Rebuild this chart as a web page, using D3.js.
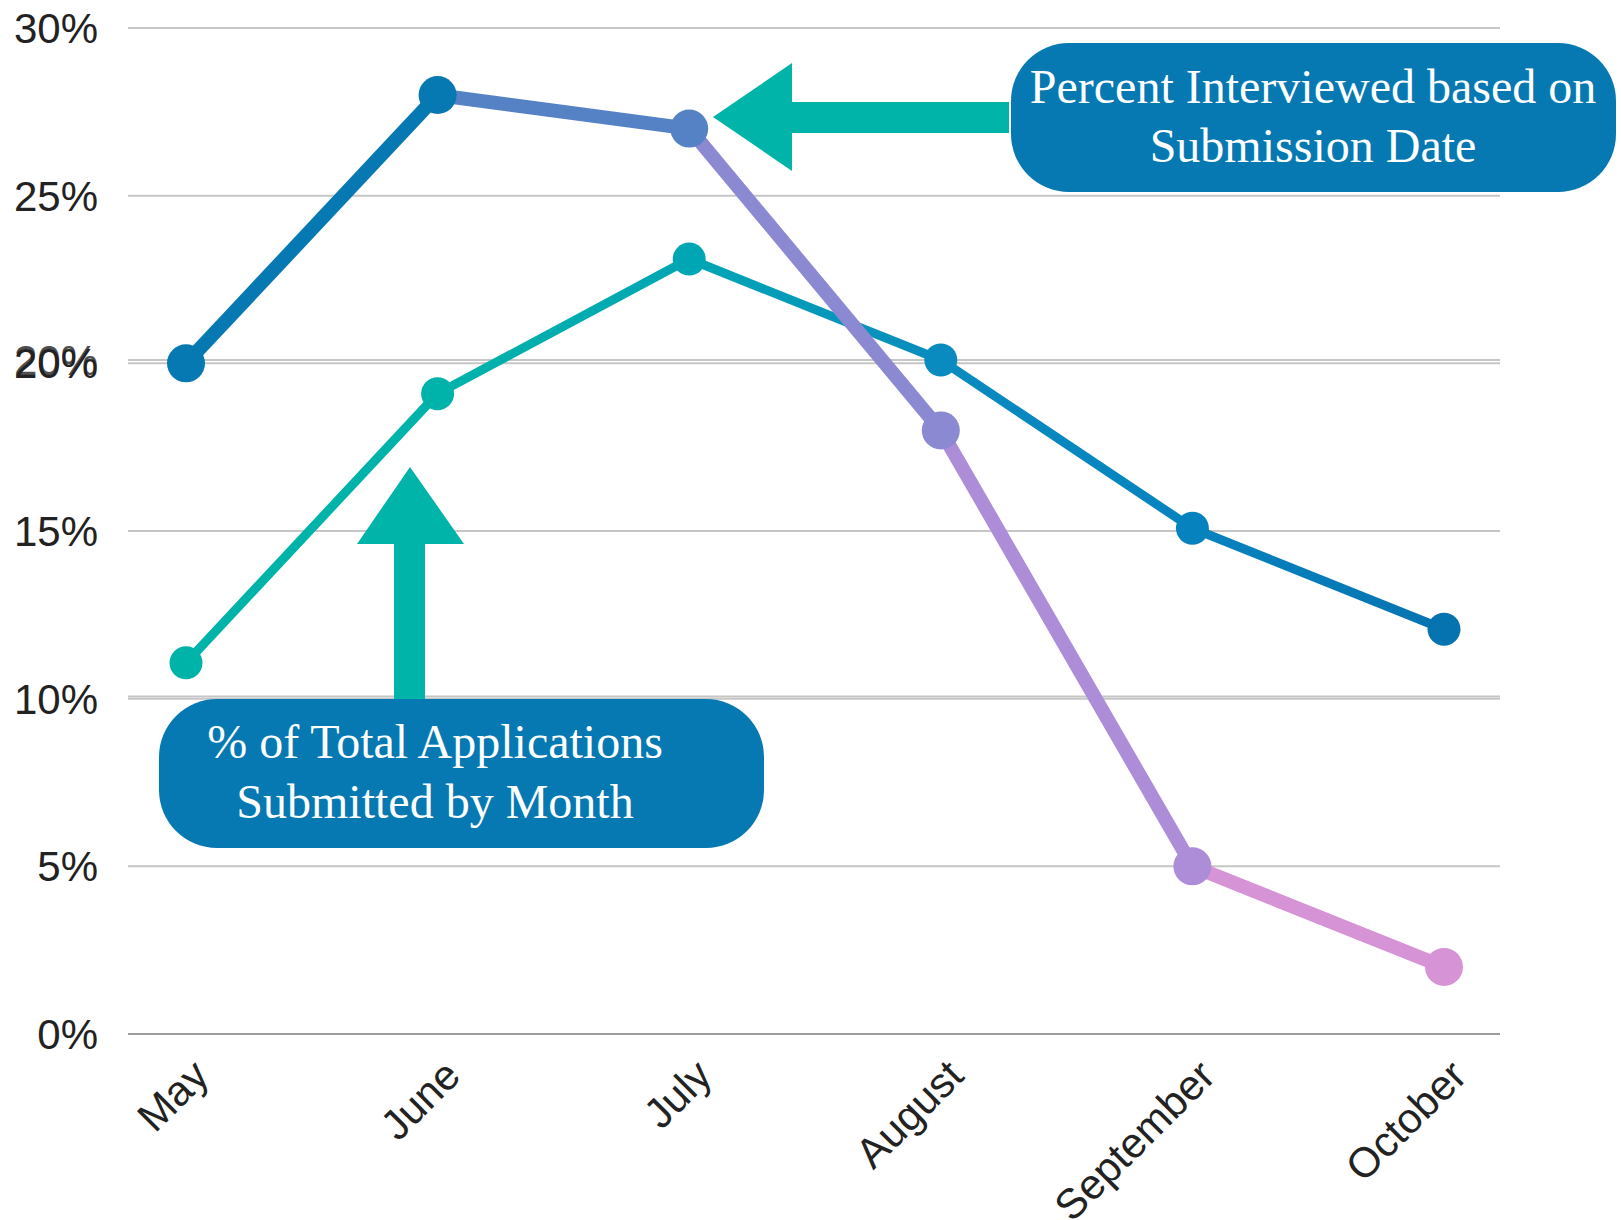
<!DOCTYPE html>
<meta charset="utf-8">
<style>
body { margin: 0; background: #fff; }
.grid line { stroke: #c6c6c6; stroke-width: 2px; }
.tick-label { font-family: "Liberation Sans", Arial, sans-serif; font-size: 42px; fill: #222; }
.note { font-family: "Liberation Serif", serif; font-size: 48px; fill: #fff; }
</style>
<body>
<div id="chart"></div>
<script src="https://d3js.org/d3.v7.min.js"></script>
<script>

// data
var months = ["May", "June", "July", "August", "September", "October"];
var interviewed = [20, 28, 27, 18, 5, 2];      // percent interviewed by submission month
var applications = [11, 19, 23, 20, 15, 12];   // % of total applications submitted
var yTicks = [0, 5, 10, 15, 20, 25, 30];
var yTicksB = [10, 20];
var yLabelsB = [20];

// colours per point / segment
var interviewColors = ["#0679b3", "#0679b3", "#5581c5", "#8a89d1", "#ad8dd8", "#d693d6"];
var appColors = ["#00b3a9", "#00b3aa", "#00a6b4", "#0a8bbf", "#0683bf", "#0673b1"];

var width = 1621, height = 1220;

var svg = d3.select("#chart").append("svg")
    .attr("width", width)
    .attr("height", height);

var x = d3.scalePoint().domain(months).range([186, 1444]);
var y = d3.scaleLinear().domain([0, 30]).range([1034, 28]);
// the second chart sits on a slightly different scale
var yB = d3.scaleLinear().domain([0, 20]).range([1033, 360]);

var gridLeft = 128, gridRight = 1500;

// grid lines
var grid = svg.append("g").attr("class", "grid");
grid.selectAll("line.a")
  .data(yTicks)
  .enter().append("line")
    .attr("class", "a")
    .attr("x1", gridLeft).attr("x2", gridRight)
    .attr("y1", function(d) { return y(d); })
    .attr("y2", function(d) { return y(d); })
    .style("stroke", function(d) { return d === 0 ? "#9c9c9c" : null; });
grid.selectAll("line.b")
  .data(yTicksB)
  .enter().append("line")
    .attr("class", "b")
    .attr("x1", gridLeft).attr("x2", gridRight)
    .attr("y1", function(d) { return yB(d); })
    .attr("y2", function(d) { return yB(d); });

// y labels
svg.append("g").selectAll("text")
  .data(yTicks)
  .enter().append("text")
    .attr("class", "tick-label")
    .attr("x", 98)
    .attr("y", function(d) { return y(d); })
    .attr("dy", "0.36em")
    .attr("text-anchor", "end")
    .text(function(d) { return d + "%"; });
svg.append("g").selectAll("text")
  .data(yLabelsB)
  .enter().append("text")
    .attr("class", "tick-label")
    .attr("x", 98)
    .attr("y", function(d) { return yB(d); })
    .attr("dy", "0.36em")
    .attr("text-anchor", "end")
    .style("opacity", 0.8)
    .text(function(d) { return d + "%"; });

// x labels
svg.append("g").selectAll("text")
  .data(months)
  .enter().append("text")
    .attr("class", "tick-label")
    .attr("text-anchor", "end")
    .attr("transform", function(d) { return "translate(" + (x(d) + 25) + "," + (y(0) + 44) + ") rotate(-45)"; })
    .text(function(d) { return d; });

// applications line, gradient along x
var defs = svg.append("defs");
var grad = defs.append("linearGradient")
    .attr("id", "appGrad")
    .attr("gradientUnits", "userSpaceOnUse")
    .attr("x1", x(months[0])).attr("x2", x(months[months.length - 1]))
    .attr("y1", 0).attr("y2", 0);
grad.selectAll("stop")
  .data(appColors)
  .enter().append("stop")
    .attr("offset", function(d, i) { return i / (appColors.length - 1); })
    .attr("stop-color", function(d) { return d; });

var appLine = d3.line()
    .x(function(d, i) { return x(months[i]); })
    .y(function(d) { return yB(d); });

svg.append("path")
    .datum(applications)
    .attr("d", appLine)
    .attr("fill", "none")
    .attr("stroke", "url(#appGrad)")
    .attr("stroke-width", 9)
    .attr("stroke-linejoin", "round");

svg.append("g").selectAll("circle")
  .data(applications)
  .enter().append("circle")
    .attr("cx", function(d, i) { return x(months[i]); })
    .attr("cy", function(d) { return yB(d); })
    .attr("r", 16.5)
    .attr("fill", function(d, i) { return appColors[i]; });

// interviewed line, one colour per segment
var segs = d3.pairs(interviewed.map(function(d, i) { return {m: months[i], v: d, i: i}; }));
svg.append("g").selectAll("line")
  .data(segs)
  .enter().append("line")
    .attr("x1", function(d) { return x(d[0].m); })
    .attr("y1", function(d) { return y(d[0].v); })
    .attr("x2", function(d) { return x(d[1].m); })
    .attr("y2", function(d) { return y(d[1].v); })
    .attr("stroke", function(d) { return interviewColors[d[1].i]; })
    .attr("stroke-width", 14);

svg.append("g").selectAll("circle")
  .data(interviewed)
  .enter().append("circle")
    .attr("cx", function(d, i) { return x(months[i]); })
    .attr("cy", function(d) { return y(d); })
    .attr("r", 19)
    .attr("fill", function(d, i) { return interviewColors[i]; });

// annotations
var teal = "#00b4aa", boxBlue = "#0679b3";

// left-pointing arrow to July
svg.append("path")
    .attr("d", "M713,117 L792,63 L792,102 L1009,102 L1009,133 L792,133 L792,171 Z")
    .attr("fill", teal);

// upward arrow to June
svg.append("path")
    .attr("d", "M410,467 L464,544 L425,544 L425,702 L394,702 L394,544 L357,544 Z")
    .attr("fill", teal);

svg.append("rect")
    .attr("x", 1011).attr("y", 43)
    .attr("width", 605).attr("height", 149)
    .attr("rx", 58)
    .attr("fill", boxBlue);
svg.append("text").attr("class", "note")
    .attr("x", 1313).attr("y", 103)
    .attr("text-anchor", "middle")
    .text("Percent Interviewed based on");
svg.append("text").attr("class", "note")
    .attr("x", 1313).attr("y", 162)
    .attr("text-anchor", "middle")
    .text("Submission Date");

svg.append("rect")
    .attr("x", 159).attr("y", 699)
    .attr("width", 605).attr("height", 149)
    .attr("rx", 58)
    .attr("fill", boxBlue);
svg.append("text").attr("class", "note")
    .attr("x", 435).attr("y", 758)
    .attr("text-anchor", "middle")
    .text("% of Total Applications");
svg.append("text").attr("class", "note")
    .attr("x", 435).attr("y", 818)
    .attr("text-anchor", "middle")
    .text("Submitted by Month");

</script>
</body>
